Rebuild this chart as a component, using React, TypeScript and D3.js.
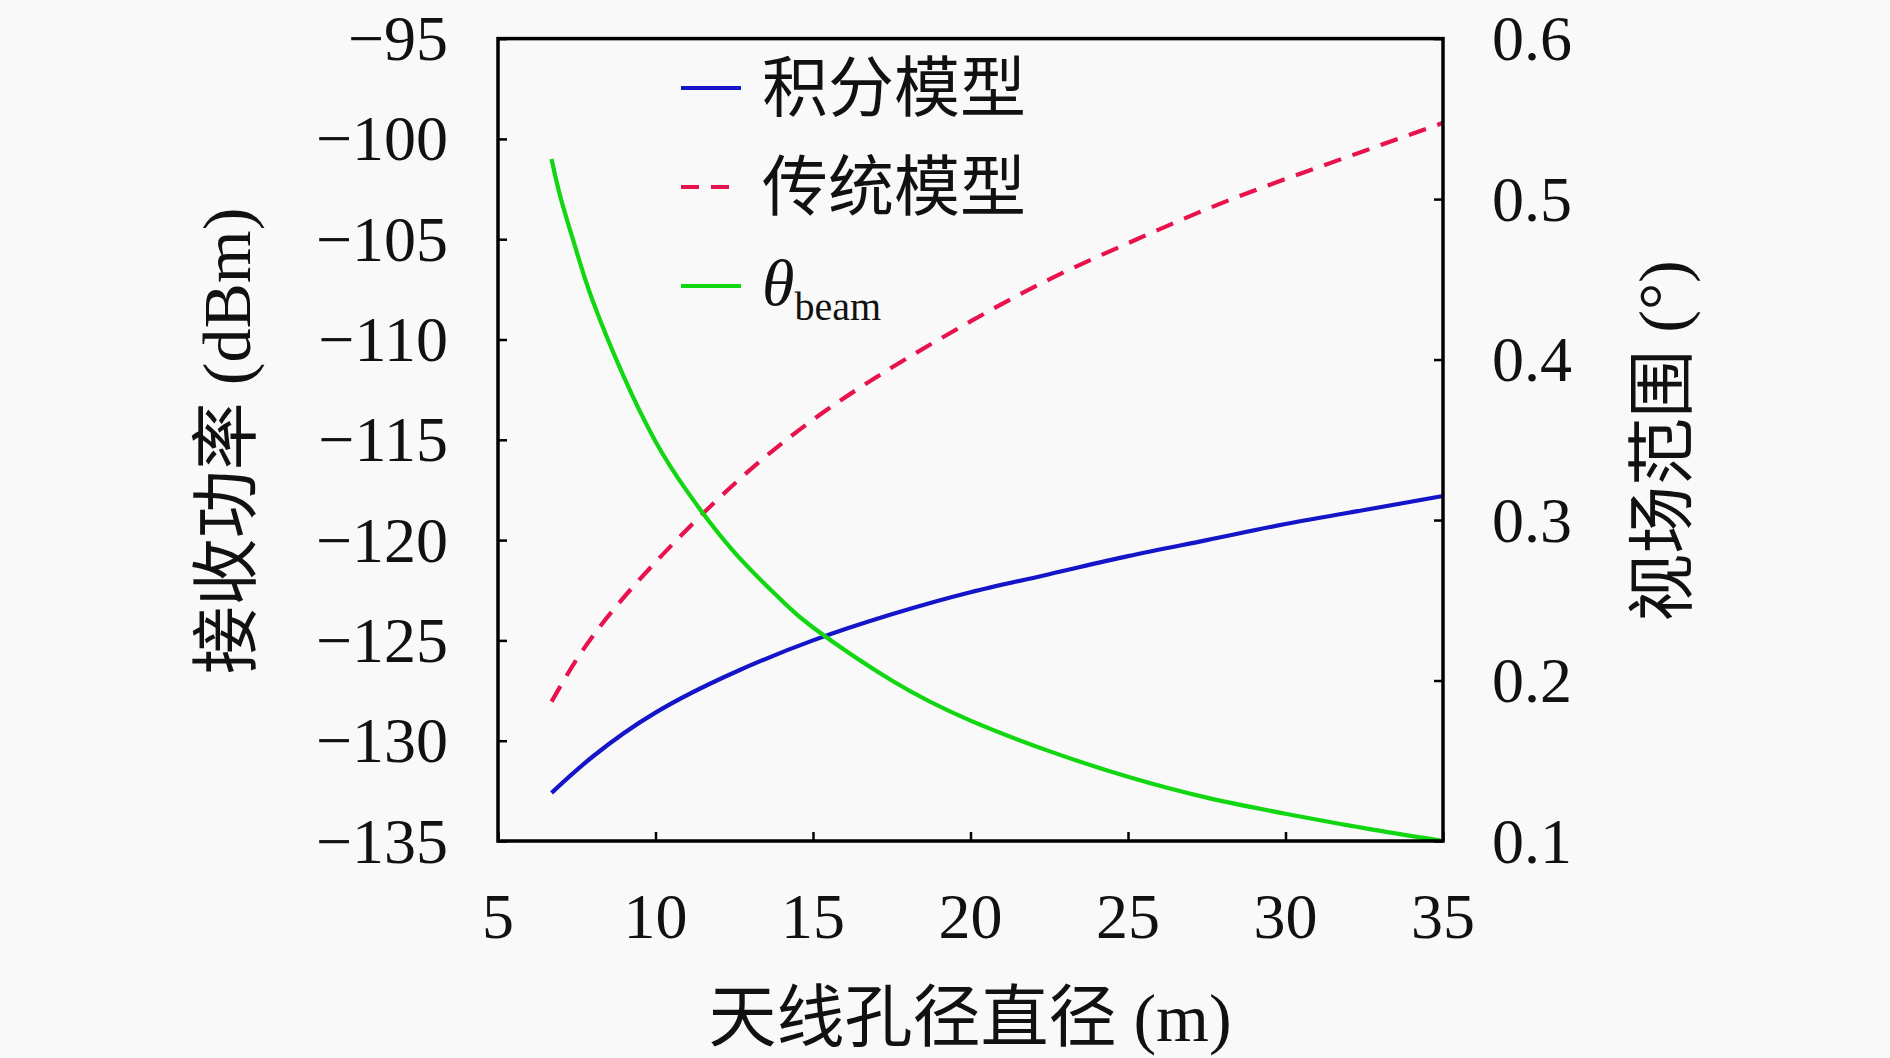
import { useEffect, useRef } from 'react';
import * as d3 from 'd3';

// antenna aperture diameter (m)
const diameters = [6.7, 8, 10, 12.5, 15, 17.5, 20, 22.5, 25, 27.5, 30, 32.5, 35];
// received power, integral model (dBm)
const integralPower = [-132.6, -130.8, -128.6, -126.6, -125.0, -123.7, -122.6, -121.7, -120.8, -120.0, -119.2, -118.5, -117.8];
// received power, conventional model (dBm)
const traditionalPower = [-128.05, -124.8, -121.1, -117.2, -114.0, -111.4, -109.1, -107.0, -105.2, -103.5, -102.0, -100.6, -99.2];

// beam width (deg), right axis
const thetaDiameters = [6.7, 7, 7.5, 8, 9, 10, 11, 12.5, 14, 15, 17.5, 20, 22.5, 25, 27.5, 30, 32.5, 35];
const thetaBeam = [0.525, 0.5, 0.467, 0.437, 0.389, 0.349, 0.318, 0.28, 0.25, 0.233, 0.2, 0.175, 0.156, 0.14, 0.127, 0.117, 0.108, 0.1];

const xTicks = [5, 10, 15, 20, 25, 30, 35];
const leftTicks = [-135, -130, -125, -120, -115, -110, -105, -100, -95];
const rightTicks = [0.1, 0.2, 0.3, 0.4, 0.5, 0.6];

const legendLabels = ['积分模型', '传统模型'];

const width = 1890;
const height = 1058;
const margin = { top: 38.6, right: 447, bottom: 217, left: 498 };
const font = "'Liberation Serif', 'Noto Sans CJK SC', serif";
const lineWidth = 4.2;
const dash = '18,12';

const App: React.FC = () => {
  const svgRef = useRef<SVGSVGElement | null>(null);

  useEffect(() => {
    if (!svgRef.current) return;
    const svg = d3.select(svgRef.current);
    svg.selectAll('*').remove();

    const x = d3.scaleLinear().domain([5, 35]).range([margin.left, width - margin.right]);
    const yL = d3.scaleLinear().domain([-135, -95]).range([height - margin.bottom, margin.top]);
    const yR = d3.scaleLinear().domain([0.1, 0.6]).range([height - margin.bottom, margin.top]);

    svg.append('rect').attr('width', width).attr('height', height).attr('fill', '#f9f9f9');

    type Pt = [number, number];
    const line = d3.line<Pt>().curve(d3.curveNatural);

    // curves
    svg.append('path')
      .attr('d', line(diameters.map((d, i) => [x(d), yL(integralPower[i])] as Pt)))
      .attr('fill', 'none').attr('stroke', '#1414c8').attr('stroke-width', lineWidth);

    svg.append('path')
      .attr('d', line(diameters.map((d, i) => [x(d), yL(traditionalPower[i])] as Pt)))
      .attr('fill', 'none').attr('stroke', '#e8134c').attr('stroke-width', lineWidth)
      .attr('stroke-dasharray', dash);

    svg.append('path')
      .attr('d', line(thetaDiameters.map((d, i) => [x(d), yR(thetaBeam[i])] as Pt)))
      .attr('fill', 'none').attr('stroke', '#12d612').attr('stroke-width', lineWidth);

    // axes, ticks pointing inward
    const styleAxis = (g: d3.Selection<SVGGElement, unknown, null, undefined>) => {
      g.select('.domain').remove();
      g.selectAll('text').remove();
      g.selectAll('line').attr('stroke', '#000').attr('stroke-width', 2.5);
    };

    svg.append('g')
      .attr('transform', `translate(0,${height - margin.bottom})`)
      .call(d3.axisBottom(x).tickValues(xTicks).tickSizeInner(-9).tickSizeOuter(0))
      .call(styleAxis);
    svg.append('g')
      .attr('transform', `translate(${margin.left},0)`)
      .call(d3.axisLeft(yL).tickValues(leftTicks).tickSizeInner(-9).tickSizeOuter(0))
      .call(styleAxis);
    svg.append('g')
      .attr('transform', `translate(${width - margin.right},0)`)
      .call(d3.axisRight(yR).tickValues(rightTicks).tickSizeInner(-9).tickSizeOuter(0))
      .call(styleAxis);

    // frame
    svg.append('rect')
      .attr('x', margin.left).attr('y', margin.top)
      .attr('width', width - margin.left - margin.right)
      .attr('height', height - margin.top - margin.bottom)
      .attr('fill', 'none').attr('stroke', '#000').attr('stroke-width', 3.5);

    const labels = svg.append('g').attr('font-family', font).attr('font-size', 64).attr('fill', '#111');

    labels.selectAll('text.xt').data(xTicks).join('text')
      .attr('class', 'xt')
      .attr('x', (d) => x(d)).attr('y', 916)
      .attr('text-anchor', 'middle').attr('dominant-baseline', 'central')
      .text((d) => d);

    labels.selectAll('text.yl').data(leftTicks).join('text')
      .attr('class', 'yl')
      .attr('x', 448).attr('y', (d) => yL(d))
      .attr('text-anchor', 'end').attr('dominant-baseline', 'central')
      .text((d) => String(d).replace('-', '\u2212'));

    labels.selectAll('text.yr').data(rightTicks).join('text')
      .attr('class', 'yr')
      .attr('x', 1492).attr('y', (d) => yR(d))
      .attr('text-anchor', 'start').attr('dominant-baseline', 'central')
      .text((d) => d3.format('.1f')(d));

    // axis titles
    const titles = labels.append('g').attr('font-size', 68);
    titles.append('text')
      .attr('x', 970).attr('y', 1018)
      .attr('text-anchor', 'middle').attr('dominant-baseline', 'central')
      .text('天线孔径直径 (m)');
    titles.append('text')
      .attr('transform', 'translate(227,441) rotate(-90)')
      .attr('text-anchor', 'middle').attr('dominant-baseline', 'central')
      .text('接收功率 (dBm)');
    titles.append('text')
      .attr('transform', 'translate(1663,441) rotate(-90)')
      .attr('text-anchor', 'middle').attr('dominant-baseline', 'central')
      .text('视场范围 (°)');

    // legend
    const legendY = [88, 187, 286];
    const legendColors = ['#1414c8', '#e8134c', '#12d612'];
    legendY.forEach((ly, i) => {
      svg.append('line')
        .attr('x1', 681).attr('x2', 741).attr('y1', ly).attr('y2', ly)
        .attr('stroke', legendColors[i]).attr('stroke-width', lineWidth)
        .attr('stroke-dasharray', i === 1 ? dash : null);
    });
    legendLabels.forEach((t, i) => {
      labels.append('text')
        .attr('x', 762).attr('y', legendY[i])
        .attr('font-size', 66)
        .attr('dominant-baseline', 'central')
        .text(t);
    });
    const theta = labels.append('text').attr('x', 762).attr('y', 305);
    theta.append('tspan').attr('font-style', 'italic').attr('font-size', 66).text('θ');
    theta.append('tspan').attr('font-size', 40).attr('dy', 15).text('beam');
  }, []);

  return (
    <svg
      ref={svgRef}
      width={width}
      height={height}
      style={{ position: 'fixed', left: 0, top: 0, display: 'block' }}
    />
  );
};

export default App;
